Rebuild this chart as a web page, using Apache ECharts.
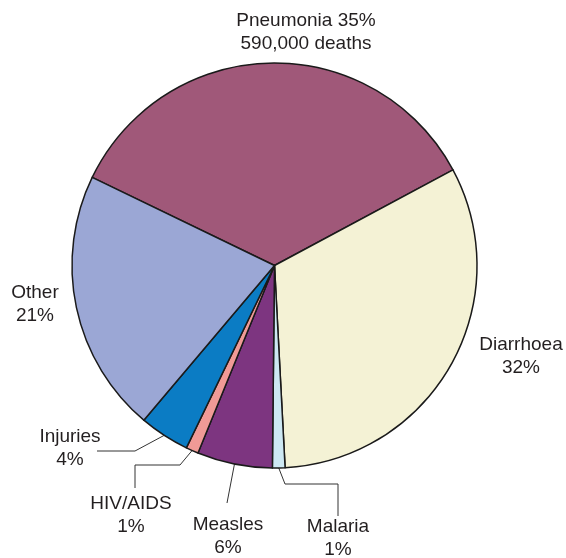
<!DOCTYPE html>
<html>
<head>
<meta charset="utf-8">
<script src="https://cdn.jsdelivr.net/npm/echarts@6/dist/echarts.min.js"></script>
<style>
  html, body { margin: 0; padding: 0; background: #fff; }
  #chart { width: 566px; height: 558px; }
</style>
</head>
<body>
<div id="chart"></div>
<script>
// causes of child deaths (share, %)
var causes = ["Pneumonia", "Diarrhoea", "Malaria", "Measles", "HIV/AIDS", "Injuries", "Other"];
var shares = [35, 32, 1, 6, 1, 4, 21];
var labelTexts = [
  "Pneumonia 35%\n590,000 deaths",
  "Diarrhoea\n32%",
  "Malaria\n1%",
  "Measles\n6%",
  "HIV/AIDS\n1%",
  "Injuries\n4%",
  "Other\n21%"
];
var colors = ["#a05879", "#f4f2d5", "#cde8f3", "#7d3580", "#f09a96", "#0b7cc4", "#9ba7d5"];

// label placement (centre of text) and elbow points of the leader lines
var labelPos = [
  [306, 32], [521, 356], [338, 538], [228, 536], [131, 515], [70, 448], [35, 304]
];
var leaderBends = [
  null, null,
  [[285, 484], [338, 484], [338, 516]],
  [[227, 503]],
  [[180, 465], [135, 465], [135, 488]],
  [[135, 451], [97, 451]],
  null
];

var chart = echarts.init(document.getElementById("chart"));

var data = causes.map(function (name, i) {
  return {
    name: name,
    value: shares[i],
    itemStyle: { color: colors[i] },
    labelLine: { show: leaderBends[i] != null }
  };
});

var option = {
  animation: false,
  series: [
    {
      type: "pie",
      center: [274.5, 265.5],
      radius: 202.5,
      startAngle: 154.2,
      clockwise: true,
      avoidLabelOverlap: false,
      itemStyle: { borderColor: "#1a1a1a", borderWidth: 1.5 },
      label: {
        show: true,
        position: "outside",
        formatter: function (p) {
          return labelTexts[p.dataIndex];
        },
        fontFamily: "Liberation Sans, Arial, sans-serif",
        fontSize: 19,
        lineHeight: 23,
        color: "#231f20",
        align: "center"
      },
      labelLine: {
        length: 10,
        length2: 10,
        lineStyle: { color: "#333", width: 1 }
      },
      labelLayout: function (params) {
        var i = params.dataIndex;
        var res = {
          x: labelPos[i][0],
          y: labelPos[i][1],
          align: "center",
          verticalAlign: "middle"
        };
        if (leaderBends[i] && params.labelLinePoints) {
          res.labelLinePoints = [params.labelLinePoints[0]].concat(leaderBends[i]);
        }
        return res;
      },
      data: data
    }
  ]
};

chart.setOption(option);
</script>
</body>
</html>
